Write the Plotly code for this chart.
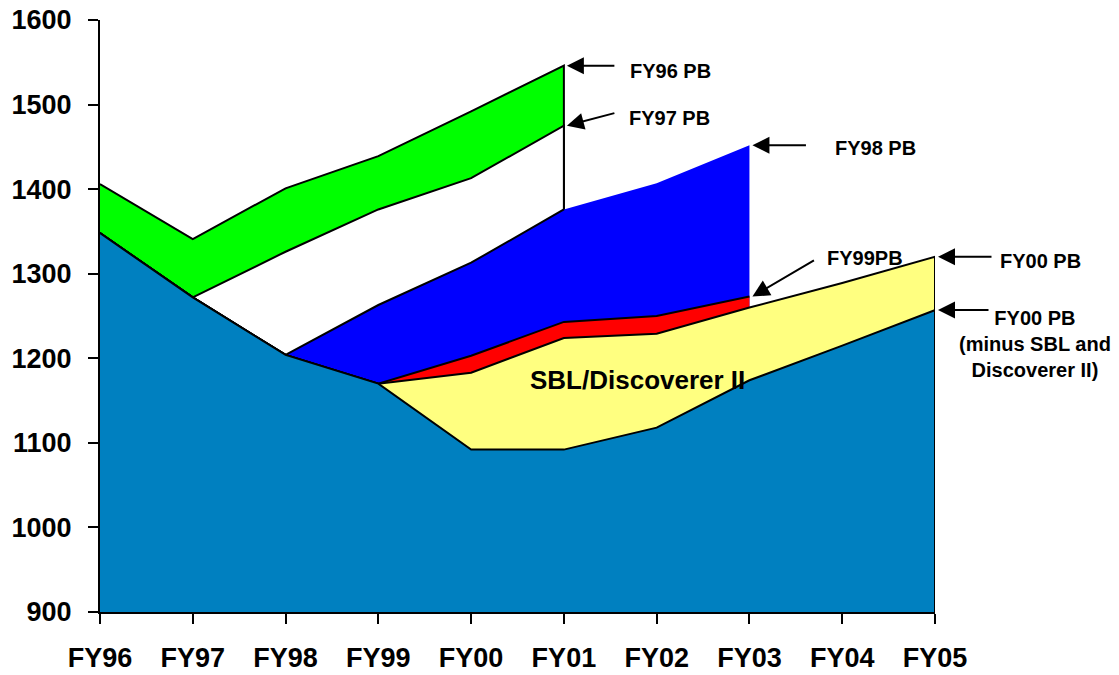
import plotly.graph_objects as go

# Fiscal years on the horizontal axis
years = ["FY96", "FY97", "FY98", "FY99", "FY00", "FY01", "FY02", "FY03", "FY04", "FY05"]

# Budget profiles (each starts from the actuals of earlier years)
fy96_pb = [1406, 1341, 1401, 1439, 1492, 1546]
fy97_pb = [1348, 1272, 1326, 1376, 1413, 1475]
fy98_pb = [1348, 1272, 1204, 1263, 1313, 1376, 1407, 1452]
fy99_pb = [1348, 1272, 1204, 1170, 1203, 1243, 1250, 1273]
fy00_pb = [1348, 1272, 1204, 1170, 1183, 1224, 1229, 1260, 1289, 1320]
fy00_pb_minus = [1348, 1272, 1204, 1170, 1092, 1092, 1118, 1174, 1215, 1257]

Y_MIN, Y_MAX = 900, 1600
FONT = "Arial, Liberation Sans, sans-serif"

# plot area in pixels
PLOT_L, PLOT_R, PLOT_T, PLOT_B = 100, 935, 20, 612

fig = go.Figure()


def add_layer(values, fill, outline_from=0, close_right=True):
    n = len(values)
    xs = list(range(n))
    # filled area down to the floor of the axis
    fig.add_trace(go.Scatter(
        x=xs + [n - 1, 0], y=values + [Y_MIN, Y_MIN],
        mode="lines", fill="toself", fillcolor=fill,
        line=dict(width=0, color=fill), hoverinfo="skip", showlegend=False,
    ))
    # black outline along the top edge (and right edge where visible)
    ox = xs[outline_from:]
    oy = values[outline_from:]
    if close_right:
        ox = ox + [n - 1]
        oy = oy + [Y_MIN]
    fig.add_trace(go.Scatter(
        x=ox, y=oy, mode="lines",
        line=dict(color="black", width=2),
        hoverinfo="skip", showlegend=False,
    ))


add_layer(fy96_pb, "#00FF00")
add_layer(fy97_pb, "#FFFFFF")

# FY98 PB: outlined through FY01, open edge afterwards
fig.add_trace(go.Scatter(
    x=list(range(len(fy98_pb))) + [len(fy98_pb) - 1, 0],
    y=fy98_pb + [Y_MIN, Y_MIN],
    mode="lines", fill="toself", fillcolor="#0000FF",
    line=dict(width=0, color="#0000FF"), hoverinfo="skip", showlegend=False,
))
fig.add_trace(go.Scatter(
    x=list(range(6)), y=fy98_pb[:6], mode="lines",
    line=dict(color="black", width=2), hoverinfo="skip", showlegend=False,
))

add_layer(fy99_pb, "#FF0000", close_right=False)
add_layer(fy00_pb, "#FFFF80")
add_layer(fy00_pb_minus, "#0080C0")

label_font = dict(family=FONT, size=20, color="black", weight="bold")


def paper_x(px):
    return (px - PLOT_L) / (PLOT_R - PLOT_L)


def paper_y(py):
    return (PLOT_B - py) / (PLOT_B - PLOT_T)


# Arrows pointing at the end of each profile
arrows = [
    (5, fy96_pb[-1], 49, 0),
    (5, fy97_pb[-1], 49, -13),
    (7, fy98_pb[-1], 55, 0),
    (7, fy99_pb[-1], 63, -37),
    (9, fy00_pb[-1], 55, 0),
    (9, fy00_pb_minus[-1], 52, 0),
]
for ax_i, val, dx, dy in arrows:
    fig.add_annotation(
        x=ax_i, y=val, xref="x", yref="y", xshift=3, text="",
        showarrow=True, arrowhead=2, arrowsize=1.7, arrowwidth=2,
        arrowcolor="black", ax=dx, ay=dy,
    )

texts = [
    ("FY96 PB", 628, 71, "left"),
    ("FY97 PB", 627, 118, "left"),
    ("FY98 PB", 833, 148, "left"),
    ("FY99PB", 825, 258, "left"),
    ("FY00 PB", 998, 261, "left"),
    ("FY00 PB<br>(minus SBL and<br>Discoverer II)", 1035, 344, "center"),
]
for txt, px, py, anchor in texts:
    fig.add_annotation(
        x=paper_x(px), y=paper_y(py), xref="paper", yref="paper", text=txt,
        showarrow=False, xanchor=anchor, yanchor="middle",
        font=label_font, align="center",
    )

fig.add_annotation(
    x=paper_x(637), y=paper_y(380), xref="paper", yref="paper", text="SBL/Discoverer II",
    showarrow=False, xanchor="center", yanchor="middle",
    font=dict(family=FONT, size=26, color="black", weight="bold"),
)

fig.update_layout(
    width=1119, height=675,
    margin=dict(l=PLOT_L, r=1119 - PLOT_R, t=PLOT_T, b=675 - PLOT_B),
    plot_bgcolor="white", paper_bgcolor="white",
    showlegend=False,
)
fig.update_xaxes(
    range=[0, 9], tickmode="array", tickvals=list(range(len(years))), ticktext=years,
    showgrid=False, zeroline=False, showline=True, linecolor="black", linewidth=2,
    ticks="outside", ticklen=10, tickwidth=2, tickcolor="black",
    tickfont=dict(family=FONT, size=27, color="black", weight="bold"),
    ticklabelstandoff=11, automargin=False,
)
fig.update_yaxes(
    range=[Y_MIN, Y_MAX], tickmode="array", tickvals=list(range(900, 1601, 100)),
    showgrid=False, zeroline=False, showline=True, linecolor="black", linewidth=2,
    ticks="outside", ticklen=10, tickwidth=2, tickcolor="black",
    tickfont=dict(family=FONT, size=27, color="black", weight="bold"),
    ticklabelstandoff=11, automargin=False,
)

fig.write_html("out.html")
